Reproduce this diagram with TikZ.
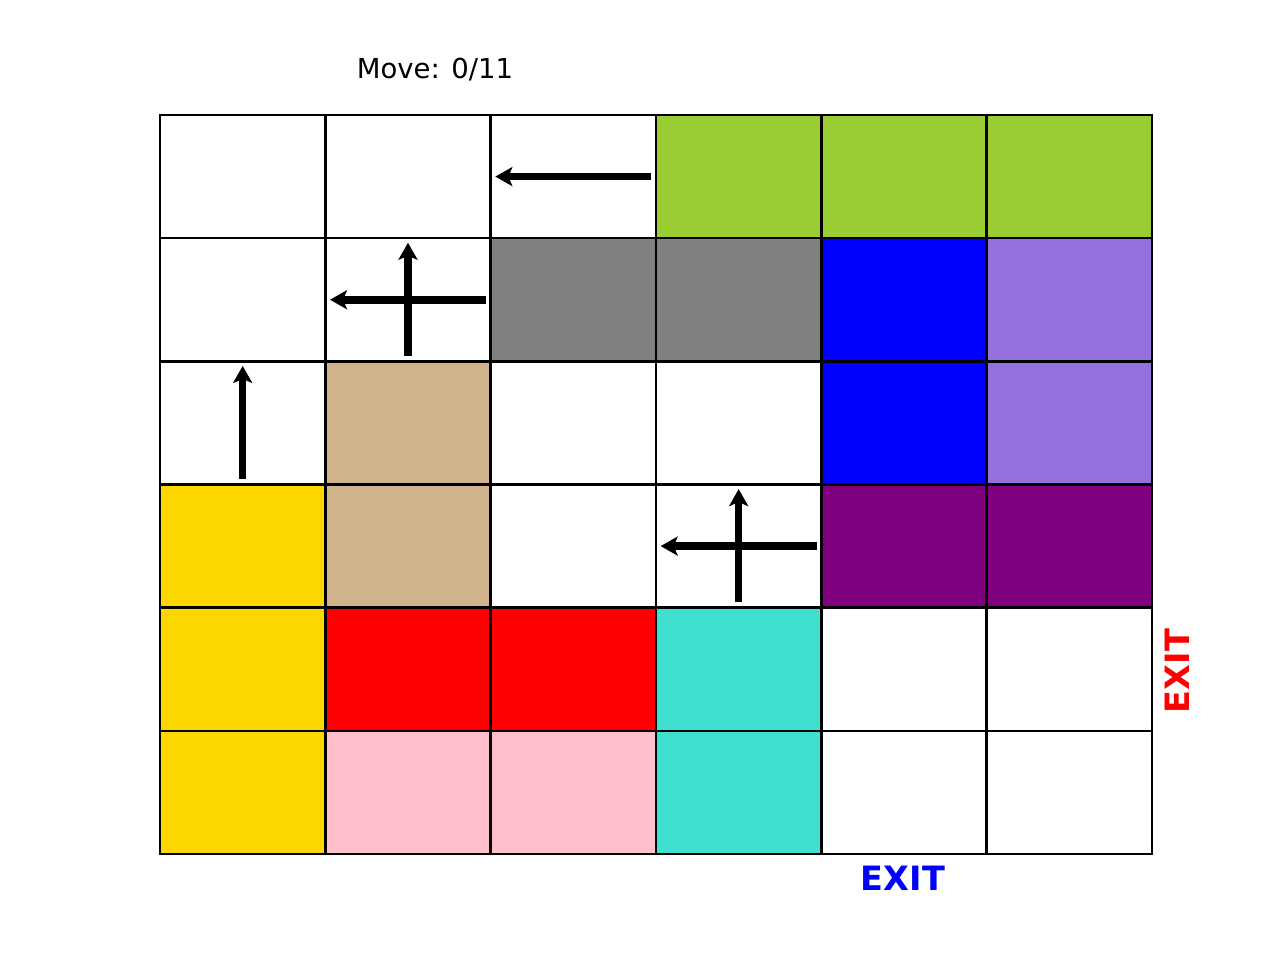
\documentclass[tikz,border=0pt]{standalone}
\usepackage{fontspec}
\setmainfont{DejaVu Sans}
\usetikzlibrary{arrows.meta}

\definecolor{yellowgreen}{RGB}{154,205,50}
\definecolor{midgray}{RGB}{128,128,128}
\definecolor{mediumpurple}{RGB}{147,112,219}
\definecolor{tan}{RGB}{210,180,140}
\definecolor{gold}{RGB}{255,215,0}
\definecolor{darkpurple}{RGB}{128,0,128}
\definecolor{turquoise}{RGB}{64,224,208}
\definecolor{pink}{RGB}{255,192,203}

\begin{document}
\begin{tikzpicture}[
    x=1pt, y=-1pt,
    cell/.style={draw=black, line width=2.6pt},
    move/.style={-{Stealth[length=17pt, width=19pt, inset=4pt]}, line width=7.5pt, draw=black},
    title/.style={font=\fontsize{27.5}{30}\selectfont, text=black},
    exitlabel/.style={font=\fontsize{33.5}{36}\selectfont\bfseries},
]
\useasboundingbox (0,0) rectangle (1280,960);

% leere Zellen
\foreach \r in {0,...,5}
  \foreach \c in {0,...,5}
    \draw[cell, fill=white] ({160+165.333*\c},{115+123.167*\r}) rectangle ++(165.333,123.167);

% Fahrzeuge (Zeile, Spalte, Farbe)
\foreach \r/\c/\col in {0/3/yellowgreen, 0/4/yellowgreen, 0/5/yellowgreen,
                        1/2/midgray, 1/3/midgray,
                        1/4/blue, 2/4/blue,
                        1/5/mediumpurple, 2/5/mediumpurple,
                        2/1/tan, 3/1/tan,
                        3/0/gold, 4/0/gold, 5/0/gold,
                        3/4/darkpurple, 3/5/darkpurple,
                        4/1/red, 4/2/red,
                        4/3/turquoise, 5/3/turquoise,
                        5/1/pink, 5/2/pink}
  \draw[cell, fill=\col] ({160+165.333*\c},{115+123.167*\r}) rectangle ++(165.333,123.167);

% Zellmitten
\foreach \r in {0,...,5}
  \foreach \c in {0,...,5}
    \coordinate (c\r\c) at ({160+165.333*\c+82.667},{115+123.167*\r+61.583});

% Zugpfeile
\draw[move] ([xshift=78pt]c02) -- ([xshift=-78pt]c02);
\draw[move] ([xshift=78pt]c11) -- ([xshift=-78pt]c11);
\draw[move] ([yshift=-56pt]c11) -- ([yshift=57pt]c11);
\draw[move] ([yshift=-56pt]c20) -- ([yshift=57pt]c20);
\draw[move] ([xshift=78pt]c33) -- ([xshift=-78pt]c33);
\draw[move] ([yshift=-56pt]c33) -- ([yshift=57pt]c33);

% Beschriftungen
\node[title] (counter) at (435,70) {Move: 0/11};
\node[exitlabel, text=blue] (exitbottom) at (903,878) {EXIT};
\node[exitlabel, text=red, rotate=90] (exitright) at (1177,671) {EXIT};
\end{tikzpicture}
\end{document}
